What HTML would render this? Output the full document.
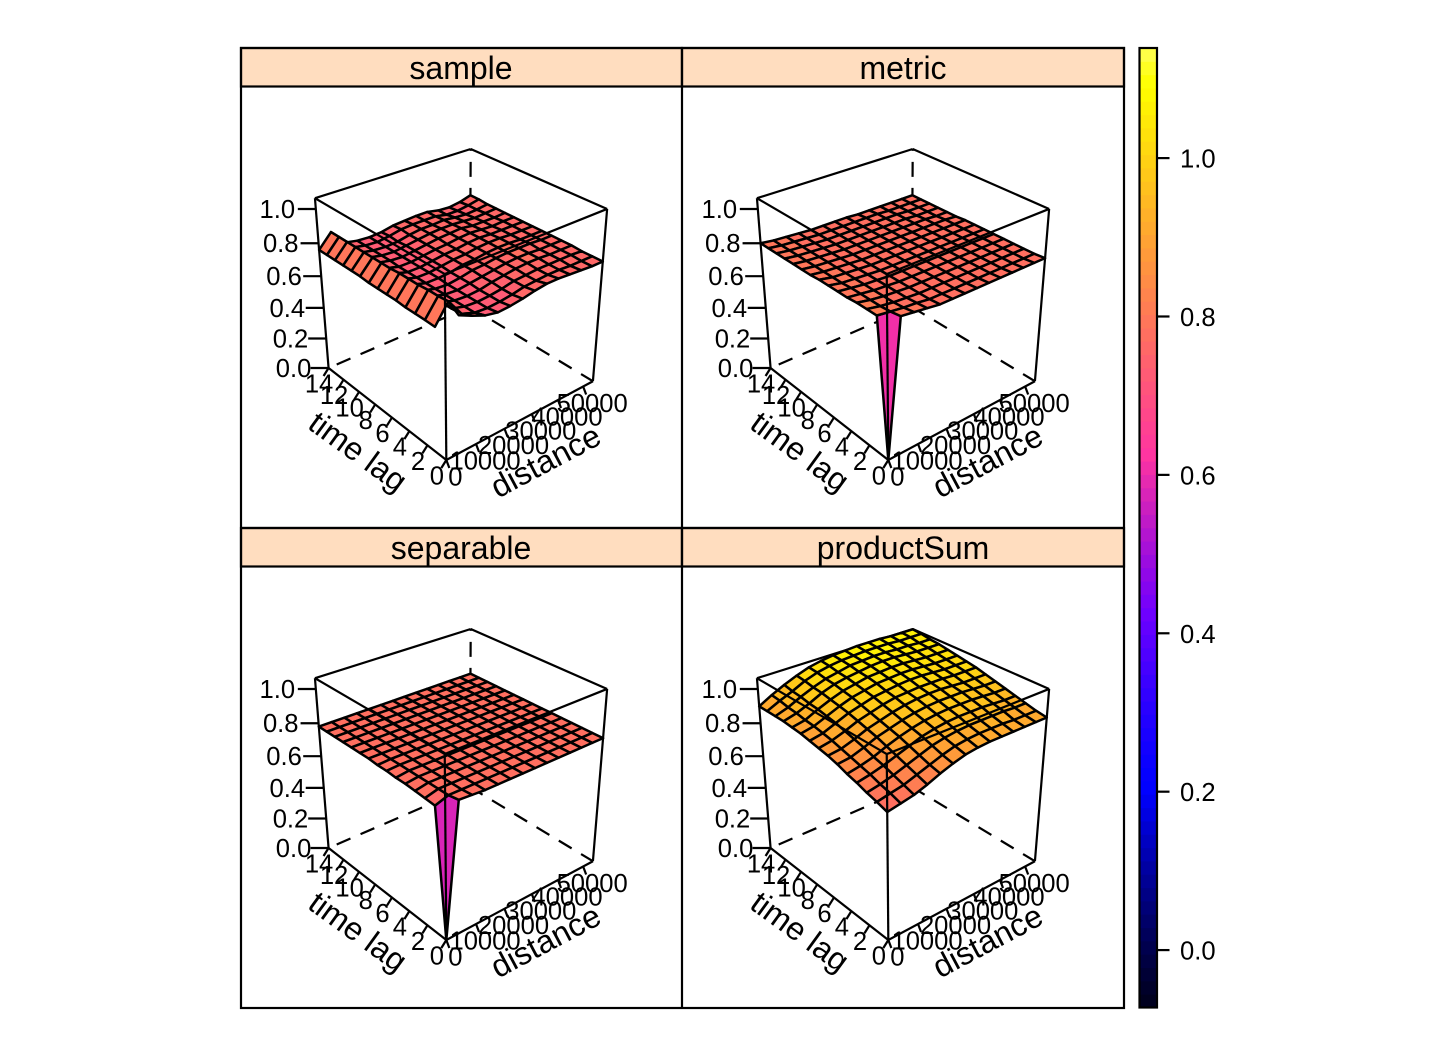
<!DOCTYPE html>
<html>
<head>
<meta charset="utf-8">
<title>Spatio-temporal variogram wireframes</title>
<style>
html,body{margin:0;padding:0;background:#fff;width:1440px;height:1056px;overflow:hidden}
svg{display:block}
text{font-family:"Liberation Sans",Arial,sans-serif;fill:#000}
</style>
</head>
<body>
<svg id="chart" xmlns="http://www.w3.org/2000/svg" width="1440" height="1056" viewBox="0 0 1440 1056">
  <rect x="241" y="48" width="441" height="38.5" fill="#FFDDBF" stroke="#000" stroke-width="2.2"/>
  <rect x="682" y="48" width="442" height="38.5" fill="#FFDDBF" stroke="#000" stroke-width="2.2"/>
  <rect x="241" y="528" width="441" height="38.5" fill="#FFDDBF" stroke="#000" stroke-width="2.2"/>
  <rect x="682" y="528" width="442" height="38.5" fill="#FFDDBF" stroke="#000" stroke-width="2.2"/>
  <text x="461" y="79" font-size="32" text-anchor="middle">sample</text>
  <text x="903" y="79" font-size="32" text-anchor="middle">metric</text>
  <text x="461" y="559" font-size="32" text-anchor="middle">separable</text>
  <text x="903" y="559" font-size="32" text-anchor="middle">productSum</text>
  <rect x="241" y="48" width="883" height="960" fill="none" stroke="#000" stroke-width="2.2"/>
  <line x1="682" y1="48" x2="682" y2="1008" stroke="#000" stroke-width="2.2"/>
  <line x1="241" y1="528" x2="1124" y2="528" stroke="#000" stroke-width="2.2"/>
</svg>
<script>
// ---- data ----
const distanceBins = [0,4154,8308,12462,16615,20769,24923,29077,33231,37385,41538,45692,49846,54000];
const lagBins = [0,1,2,3,4,5,6,7,8,9,10,11,12,13,14];
const zTicks = [0,0.2,0.4,0.6,0.8,1.0];
const lagTicks = [0,2,4,6,8,10,12,14];
const distanceTicks = [0,10000,20000,30000,40000,50000];
const colorbarTicks = [0,0.2,0.4,0.6,0.8,1.0];

const gammaSample = [
[null,.815,.78,.75,.735,.74,.75,.765,.775,.775,.77,.765,.76,.76],
[.748,.855,.755,.73,.725,.73,.74,.755,.76,.765,.765,.76,.76,.76],
[.75,.85,.75,.73,.725,.73,.74,.755,.76,.765,.765,.765,.765,.76],
[.75,.85,.75,.73,.725,.73,.745,.755,.765,.77,.77,.765,.765,.765],
[.75,.845,.75,.73,.725,.735,.745,.755,.765,.77,.77,.765,.765,.765],
[.755,.845,.75,.73,.725,.735,.75,.755,.765,.77,.77,.77,.765,.765],
[.755,.845,.75,.73,.73,.735,.75,.755,.765,.77,.77,.765,.765,.765],
[.755,.84,.75,.73,.73,.74,.75,.755,.765,.77,.77,.765,.765,.765],
[.755,.84,.75,.73,.73,.74,.75,.755,.765,.77,.765,.765,.765,.765],
[.76,.84,.75,.73,.73,.74,.75,.755,.765,.77,.765,.76,.765,.765],
[.76,.84,.75,.735,.73,.74,.75,.76,.765,.77,.76,.76,.76,.765],
[.76,.84,.75,.735,.73,.74,.75,.76,.765,.765,.76,.755,.76,.765],
[.76,.84,.75,.735,.73,.735,.75,.76,.76,.765,.755,.75,.755,.765],
[.76,.84,.75,.735,.73,.74,.755,.76,.76,.76,.745,.745,.755,.77],
[.76,.84,.75,.735,.73,.735,.75,.755,.76,.76,.745,.74,.75,.77]
];
const gammaMetric = [
[0,.81,.80,.79,.78,.78,.78,.78,.78,.78,.78,.78,.78,.78],
[.81,.80,.79,.785,.775,.775,.775,.775,.775,.775,.775,.775,.775,.775],
[.81,.795,.785,.78,.775,.775,.775,.775,.775,.775,.775,.775,.775,.775],
[.81,.795,.785,.78,.775,.775,.775,.775,.775,.775,.775,.775,.775,.775],
[.805,.795,.785,.78,.775,.775,.775,.775,.775,.775,.775,.775,.775,.775],
[.805,.795,.785,.78,.775,.775,.775,.775,.775,.775,.775,.775,.775,.775],
[.805,.79,.785,.78,.775,.775,.775,.775,.775,.775,.775,.775,.775,.775],
[.805,.79,.785,.78,.775,.775,.775,.775,.775,.775,.775,.775,.775,.775],
[.80,.79,.785,.78,.775,.775,.775,.775,.775,.775,.775,.775,.775,.775],
[.80,.79,.785,.78,.775,.775,.775,.775,.775,.775,.775,.775,.775,.77],
[.80,.79,.785,.78,.775,.775,.775,.775,.775,.775,.775,.775,.77,.77],
[.80,.79,.785,.78,.775,.775,.775,.775,.775,.775,.775,.77,.77,.77],
[.80,.79,.785,.78,.775,.775,.775,.775,.775,.775,.775,.77,.77,.77],
[.80,.79,.785,.78,.775,.775,.775,.775,.775,.775,.77,.77,.77,.77],
[.80,.79,.785,.78,.775,.775,.775,.775,.77,.77,.77,.77,.77,.77]
];
const gammaSeparable = [
[0,.79,.785,.78,.78,.78,.78,.78,.78,.78,.78,.78,.78,.78],
[.755,.78,.78,.78,.78,.78,.78,.78,.78,.78,.78,.78,.78,.78],
[.76,.78,.78,.78,.78,.78,.78,.78,.78,.78,.78,.78,.78,.78],
[.765,.78,.78,.78,.78,.78,.78,.78,.78,.78,.78,.78,.78,.78],
[.77,.78,.78,.78,.78,.78,.78,.78,.78,.78,.78,.78,.78,.78],
[.77,.78,.78,.78,.78,.78,.78,.78,.78,.78,.78,.78,.78,.78],
[.775,.78,.78,.78,.78,.78,.78,.78,.78,.78,.78,.78,.78,.78],
[.775,.78,.78,.78,.78,.78,.78,.78,.78,.78,.78,.78,.78,.78],
[.78,.78,.78,.78,.78,.78,.78,.78,.78,.78,.78,.78,.78,.78],
[.78,.78,.78,.78,.78,.78,.78,.78,.78,.78,.78,.78,.78,.78],
[.78,.78,.78,.78,.78,.78,.78,.78,.78,.78,.78,.78,.78,.78],
[.78,.78,.78,.78,.78,.78,.78,.78,.78,.78,.78,.78,.78,.78],
[.78,.78,.78,.78,.78,.78,.78,.78,.78,.78,.78,.78,.78,.78],
[.78,.78,.78,.78,.78,.78,.78,.78,.78,.78,.78,.78,.78,.78],
[.78,.78,.78,.78,.78,.78,.78,.78,.78,.78,.78,.78,.78,.78]
];
const gammaProductSum = [
[.756,.77,.785,.81,.84,.865,.885,.895,.90,.90,.90,.90,.90,.90],
[.775,.79,.805,.83,.855,.88,.90,.91,.915,.915,.915,.91,.91,.91],
[.79,.805,.825,.85,.875,.90,.915,.925,.93,.93,.93,.93,.925,.925],
[.81,.825,.845,.87,.895,.92,.935,.945,.95,.95,.95,.945,.94,.94],
[.825,.84,.86,.89,.915,.935,.95,.96,.965,.965,.965,.96,.955,.955],
[.845,.855,.88,.91,.93,.95,.965,.975,.98,.98,.98,.975,.97,.97],
[.86,.87,.895,.925,.945,.965,.98,.99,.995,.995,.99,.985,.985,.985],
[.87,.885,.91,.94,.96,.98,.995,1.0,1.005,1.005,1.005,1.0,1.0,1.0],
[.88,.895,.925,.955,.975,.995,1.005,1.015,1.02,1.02,1.015,1.01,1.01,1.01],
[.89,.905,.935,.965,.99,1.005,1.02,1.025,1.03,1.03,1.025,1.02,1.02,1.02],
[.895,.91,.945,.975,1.0,1.015,1.03,1.035,1.04,1.04,1.035,1.03,1.03,1.03],
[.90,.92,.95,.985,1.01,1.025,1.035,1.045,1.05,1.05,1.045,1.04,1.04,1.04],
[.90,.925,.96,.99,1.015,1.03,1.045,1.05,1.055,1.055,1.05,1.05,1.045,1.045],
[.90,.935,.965,1.0,1.025,1.04,1.05,1.055,1.06,1.06,1.06,1.055,1.055,1.055],
[.90,.94,.975,1.005,1.03,1.045,1.055,1.06,1.065,1.065,1.065,1.06,1.06,1.06]
];
const panelNames = ["sample","metric","separable","productsum"];
const panelGamma = [gammaSample,gammaMetric,gammaSeparable,gammaProductSum];

// ---- scales ----
const svg = document.getElementById('chart');
const NS = 'http://www.w3.org/2000/svg';
const distMax = distanceBins[distanceBins.length-1];
const lagMax = lagBins[lagBins.length-1];
const zMax = 1.0616;
const colorLow = -0.0725, colorHigh = 1.139, colorBands = 72;
const theta = 40*Math.PI/180, phi = -60*Math.PI/180, viewDist = 5, zoom = 985, centerX = 459.4, centerY = 293.3;
const panelColumn = [0,1,0,1], panelRow = [0,0,1,1];

function cubeProject(x,y,z){
  const x1 = x*Math.cos(theta)-y*Math.sin(theta);
  const y1 = x*Math.sin(theta)+y*Math.cos(theta);
  const y2 = y1*Math.cos(phi)-z*Math.sin(phi);
  const z2 = y1*Math.sin(phi)+z*Math.cos(phi);
  const s = 1/(viewDist-z2);
  return {x:centerX+zoom*x1*s, y:centerY-zoom*y2*s, depth:z2};
}
function project(dist,lag,gamma){
  return cubeProject(dist/distMax-0.5, lag/lagMax-0.5, gamma/zMax-0.5);
}
function colorAt(i){
  const r = i<.25?0:(i<.57?i/.32-.78125:1);
  const g = i<.42?0:(i<.92?2*i-.84:1);
  const b = i<.25?4*i:(i<.42?1:(i<.92?-2*i+1.84:i/.08-11.5));
  const c = v => Math.round(255*Math.pow(Math.max(0,Math.min(1,v)),1.3));
  return 'rgb('+c(r)+','+c(g)+','+c(b)+')';
}
function bandColor(band){
  return colorAt(0.05+0.9*(band/(colorBands-1)));
}
function gammaColor(v){
  const band = Math.max(0,Math.min(colorBands-1,Math.floor((v-colorLow)/(colorHigh-colorLow)*colorBands)));
  return bandColor(band);
}
function colorbarY(v){
  return 1007.5-(v-colorLow)/(colorHigh-colorLow)*959.5;
}

function line(parent,a,b,dashed){
  const el = document.createElementNS(NS,'line');
  el.setAttribute('x1',a.x.toFixed(2));
  el.setAttribute('y1',a.y.toFixed(2));
  el.setAttribute('x2',b.x.toFixed(2));
  el.setAttribute('y2',b.y.toFixed(2));
  el.setAttribute('stroke','#000');
  el.setAttribute('stroke-width','2.2');
  if(dashed) el.setAttribute('stroke-dasharray','15 11');
  parent.appendChild(el);
  return el;
}
function label(parent,str,x,y,size,anchor){
  const el = document.createElementNS(NS,'text');
  el.setAttribute('x',x.toFixed(2));
  el.setAttribute('y',y.toFixed(2));
  el.setAttribute('font-size',size);
  el.setAttribute('text-anchor',anchor);
  el.textContent = str;
  parent.appendChild(el);
  return el;
}

// ---- panels ----
panelNames.forEach(function(name,p){
  const g = document.createElementNS(NS,'g');
  g.setAttribute('transform','translate('+(442*panelColumn[p])+','+(480*panelRow[p])+')');
  
  
  svg.appendChild(g);

  const C = (u,v,w)=>cubeProject(u-0.5,v-0.5,w-0.5);

  // hidden and rear box edges (behind the surface)
  [[C(1,1,0),C(1,1,1)],[C(1,1,0),C(0,1,0)],[C(1,1,0),C(1,0,0)]].forEach(function(e){
    const el = line(g,e[0],e[1],true);
    
    
  });
  [[C(0,1,1),C(1,1,1)],[C(1,1,1),C(1,0,1)]].forEach(function(e){
    const el = line(g,e[0],e[1],false);
    
    
  });

  // surface cells, painted far to near
  const matrix = panelGamma[p];
  const cells = [];
  for(let i=0;i<lagBins.length-1;i++){
    for(let j=0;j<distanceBins.length-1;j++){
      const vals = [matrix[i][j],matrix[i][j+1],matrix[i+1][j+1],matrix[i+1][j]];
      if(vals.some(v=>v===null)) continue;
      const pts = [
        project(distanceBins[j],lagBins[i],vals[0]),
        project(distanceBins[j+1],lagBins[i],vals[1]),
        project(distanceBins[j+1],lagBins[i+1],vals[2]),
        project(distanceBins[j],lagBins[i+1],vals[3])
      ];
      cells.push({pts:pts,mean:(vals[0]+vals[1]+vals[2]+vals[3])/4,depth:(pts[0].depth+pts[1].depth+pts[2].depth+pts[3].depth)/4});
    }
  }
  cells.sort((a,b)=>a.depth-b.depth);
  cells.forEach(function(c){
    const poly = document.createElementNS(NS,'polygon');
    poly.setAttribute('points',c.pts.map(q=>q.x.toFixed(2)+','+q.y.toFixed(2)).join(' '));
    poly.setAttribute('fill',gammaColor(c.mean));
    poly.setAttribute('stroke','#000');
    poly.setAttribute('stroke-width','2.5');
    poly.setAttribute('stroke-linejoin','round');
    
    
    g.appendChild(poly);
  });

  // front box edges (over the surface)
  [[C(0,0,0),C(0,0,1)],[C(0,1,1),C(0,0,1)],[C(1,0,1),C(0,0,1)],[C(0,1,0),C(0,1,1)],[C(1,0,0),C(1,0,1)],[C(0,0,0),C(0,1,0)],[C(0,0,0),C(1,0,0)]].forEach(function(e){
    const el = line(g,e[0],e[1],false);
    
    
  });

  // z axis
  zTicks.forEach(function(t){
    const a = cubeProject(-0.5,0.5,t/zMax-0.5);
    const tick = line(g,a,{x:a.x-18,y:a.y},false);
    
    
    const txt = label(g,t.toFixed(1),a.x-35-3.5*t,a.y+9,25.6,'middle');
    
    
  });
  // time-lag axis
  lagTicks.forEach(function(t){
    const a = project(0,t,0);
    const tick = line(g,a,{x:a.x-5,y:a.y+8},false);
    
    
    const txt = label(g,String(t),a.x-9.5,a.y+15.5+9,25.6,'middle');
    
    
  });
  // distance axis
  distanceTicks.forEach(function(t){
    const a = project(t,0,0);
    const tick = line(g,a,{x:a.x+3,y:a.y+8},false);
    
    
    const txt = label(g,String(t),a.x+9,a.y+16.5+9,25.6,'middle');
    
    
  });
  // axis titles
  const lagTitle = label(g,'time lag',0,11,32,'middle');
  lagTitle.setAttribute('transform','translate(358,451.5) rotate(36)');
  
  
  const distTitle = label(g,'distance',0,11,32,'middle');
  distTitle.setAttribute('transform','translate(545.5,461) rotate(-28)');
  
  
});

// ---- colorbar ----
const bar = document.createElementNS(NS,'g');


svg.appendChild(bar);
for(let b=0;b<colorBands;b++){
  const lo = colorLow+(colorHigh-colorLow)*b/colorBands;
  const hi = colorLow+(colorHigh-colorLow)*(b+1)/colorBands;
  const r = document.createElementNS(NS,'rect');
  r.setAttribute('x','1139');
  r.setAttribute('width','18');
  r.setAttribute('y',colorbarY(hi).toFixed(2));
  r.setAttribute('height',(colorbarY(lo)-colorbarY(hi)+0.5).toFixed(2));
  r.setAttribute('fill',bandColor(b));
  
  
  bar.appendChild(r);
}
const barFrame = document.createElementNS(NS,'rect');
barFrame.setAttribute('x','1139.5');
barFrame.setAttribute('y','48');
barFrame.setAttribute('width','17.5');
barFrame.setAttribute('height','959.5');
barFrame.setAttribute('fill','none');
barFrame.setAttribute('stroke','#000');
barFrame.setAttribute('stroke-width','2.2');


bar.appendChild(barFrame);
colorbarTicks.forEach(function(t){
  const y = colorbarY(t);
  const tick = line(bar,{x:1157,y:y},{x:1169.5,y:y},false);
  
  
  const txt = label(bar,t.toFixed(1),1180,y+9.5,25.6,'start');
  
  
});
</script>
</body>
</html>
